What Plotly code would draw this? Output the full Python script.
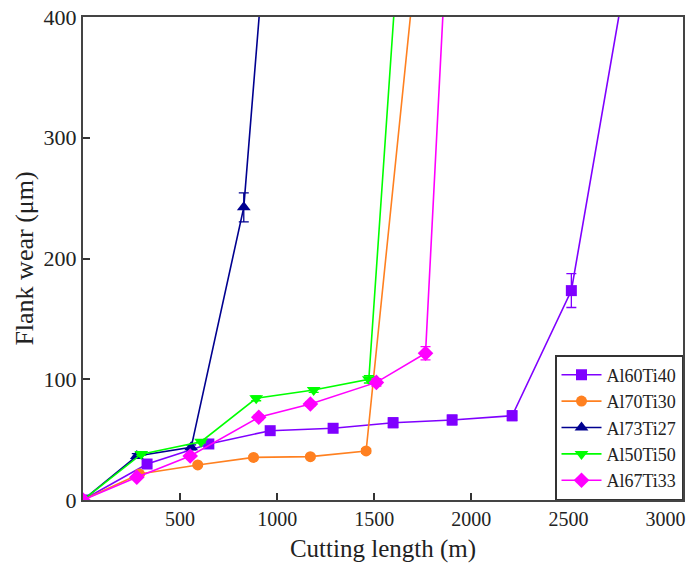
import plotly.graph_objects as go

# Al60Ti40
x_60 = [0, 330, 648, 964, 1288, 1597, 1901, 2210, 2515, 2800]
y_60 = [0, 29.8, 46.4, 57.4, 59.4, 64, 66.3, 69.8, 173.4, 438]
e_60 = [0, 2, 2, 2, 3, 4, 4, 4, 14, 0]
# Al70Ti30
x_70 = [0, 291, 591, 878, 1171, 1458, 1750]
y_70 = [0, 21.5, 29, 35.3, 35.9, 40.6, 501]
e_70 = [0, 1, 1, 1, 1, 2, 0]
# Al73Ti27
x_73 = [0, 277, 557, 828, 950]
y_73 = [0, 36.4, 43.6, 242.4, 486]
e_73 = [0, 2, 2, 12, 0]
# Al50Ti50
x_50 = [0, 300, 608, 892, 1188, 1472, 1650]
y_50 = [0, 38, 48.3, 84.2, 91.1, 99.9, 517]
e_50 = [0, 1, 1, 2, 2, 3, 0]
# Al67Ti33
x_67 = [0, 277, 552, 905, 1171, 1511, 1764, 1900]
y_67 = [0, 18.8, 36.4, 68.5, 79.5, 97.4, 121.5, 547]
e_67 = [0, 1, 1, 2, 2, 3, 5.5, 0]

names = ["Al60Ti40", "Al70Ti30", "Al73Ti27", "Al50Ti50", "Al67Ti33"]
colors = ["#7F00FF", "#FF8020", "#000090", "#00FF00", "#FF00FF"]
symbols = ["square", "circle", "triangle-up", "triangle-down", "diamond"]
sizes = [11, 11, 12, 12, 12]
series = [(x_60, y_60, e_60), (x_70, y_70, e_70), (x_73, y_73, e_73),
          (x_50, y_50, e_50), (x_67, y_67, e_67)]

x_ticks = [500, 1000, 1500, 2000, 2500, 3000]
y_ticks = [0, 100, 200, 300, 400]

fig = go.Figure()
for (xs, ys, es), n, c, s, sz in zip(series, names, colors, symbols, sizes):
    fig.add_trace(go.Scatter(
        x=xs, y=ys, name=n, mode="lines+markers",
        line=dict(color=c, width=1.6),
        marker=dict(symbol=s, size=sz, color=c),
        error_y=dict(type="data", array=es, visible=True, color=c, thickness=1.3, width=5),
        cliponaxis=True,
    ))

font_family = "Times New Roman, Liberation Serif, serif"
fig.update_layout(
    width=688, height=576,
    margin=dict(l=83, r=5, t=17, b=76, autoexpand=False),
    paper_bgcolor="white", plot_bgcolor="white",
    font=dict(family=font_family, size=16, color="#222"),
    showlegend=True,
    legend=dict(x=1, xanchor="right", y=0, yanchor="bottom",
                bordercolor="#333", borderwidth=1.5, bgcolor="white",
                font=dict(family=font_family, size=18, color="#222"),
                itemwidth=40, tracegroupgap=0),
    xaxis=dict(range=[0, 3090], tickvals=x_ticks, ticks="inside", ticklen=7,
               tickwidth=1.5, tickcolor="#333", showline=True, linecolor="#444",
               linewidth=2, mirror=True, showgrid=False, zeroline=False,
               automargin=False, tickfont=dict(size=20),
               title=dict(text="Cutting length (m)", font=dict(size=25), standoff=10)),
    yaxis=dict(range=[0, 400], tickvals=y_ticks, ticks="inside", ticklen=7,
               tickwidth=1.5, tickcolor="#333", showline=True, linecolor="#444",
               linewidth=2, mirror=True, showgrid=False, zeroline=False,
               automargin=False, tickfont=dict(size=22),
               title=dict(text="Flank wear (μm)", font=dict(size=26), standoff=2)),
)

fig.write_html("out.html", config={"displayModeBar": False},
               post_script="document.body.style.margin='0';document.body.style.overflow='hidden';")
